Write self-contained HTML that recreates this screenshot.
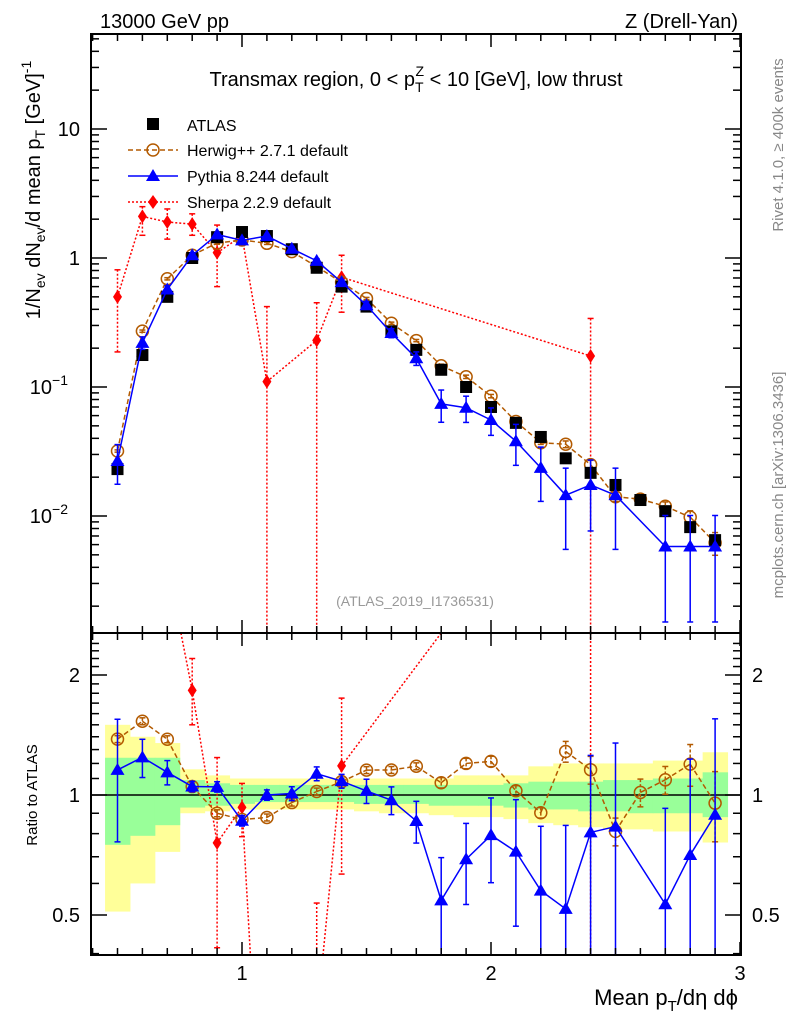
<!DOCTYPE html>
<html><head><meta charset="utf-8"><style>
html,body{margin:0;padding:0;background:#fff;width:786px;height:1024px;overflow:hidden}
svg{display:block;font-family:"Liberation Sans",Arial,sans-serif}
</style></head><body>
<svg id="chart" width="786" height="1024" viewBox="0 0 786 1024">
<defs>
<clipPath id="clipMain"><rect x="91" y="34" width="650" height="599"/></clipPath>
<clipPath id="clipRatio"><rect x="91" y="633" width="650" height="322"/></clipPath>
</defs>
<g id="bands" clip-path="url(#clipRatio)"></g>
<g id="marks"></g>
<rect x="91" y="34" width="650" height="599" fill="none" stroke="#000" stroke-width="2"/>
<rect x="91" y="633" width="650" height="322" fill="none" stroke="#000" stroke-width="2"/>
<g id="ticks"></g>
<text x="100" y="28" font-size="20">13000 GeV pp</text>
<text x="738" y="28" font-size="20" text-anchor="end">Z (Drell-Yan)</text>
<text x="416" y="86" font-size="20" text-anchor="middle">Transmax region, 0 &lt; p<tspan dy="6" font-size="14">T</tspan><tspan dy="-16" dx="-8" font-size="14">Z</tspan><tspan dy="10"> &lt; 10 [GeV], low thrust</tspan></text>
<text x="415" y="606" font-size="14" fill="#999" text-anchor="middle">(ATLAS_2019_I1736531)</text>
<text transform="translate(783,145) rotate(-90)" font-size="15" fill="#888" text-anchor="middle">Rivet 4.1.0, ≥ 400k events</text>
<text transform="translate(783,485) rotate(-90)" font-size="15" fill="#888" text-anchor="middle">mcplots.cern.ch [arXiv:1306.3436]</text>
<text transform="translate(40,190) rotate(-90)" font-size="20" text-anchor="middle">1/N<tspan dy="5" font-size="14">ev</tspan><tspan dy="-5"> dN</tspan><tspan dy="5" font-size="14">ev</tspan><tspan dy="-5">/d mean p</tspan><tspan dy="5" font-size="14">T</tspan><tspan dy="-5"> [GeV]</tspan><tspan dy="-9" font-size="14">-1</tspan></text>
<text transform="translate(37,795) rotate(-90)" font-size="15" text-anchor="middle">Ratio to ATLAS</text>
<text x="738" y="1005" font-size="22" text-anchor="end">Mean p<tspan dy="6" font-size="15">T</tspan><tspan dy="-6">/dη dϕ</tspan></text>
<g id="legend">
<rect x="147" y="118" width="12" height="12" fill="#000"/>
<text x="187" y="131" font-size="16">ATLAS</text>
<line x1="128" y1="150" x2="178" y2="150" stroke="#b35a00" stroke-width="1.5" stroke-dasharray="5,3"/>
<circle cx="153" cy="150" r="6" fill="none" stroke="#b35a00" stroke-width="1.5"/>
<text x="187" y="156" font-size="16">Herwig++ 2.7.1 default</text>
<line x1="128" y1="176" x2="178" y2="176" stroke="#0000ff" stroke-width="1.5"/>
<polygon points="153,169 160,181 146,181" fill="#0000ff"/>
<text x="187" y="182" font-size="16">Pythia 8.244 default</text>
<line x1="128" y1="202" x2="178" y2="202" stroke="#ff0000" stroke-width="1.5" stroke-dasharray="2,2"/>
<polygon points="153,195 158,202 153,209 148,202" fill="#ff0000"/>
<text x="187" y="208" font-size="16">Sherpa 2.2.9 default</text>
</g>
</svg>
<script>
const xs = [0.5,0.6,0.7,0.8,0.9,1.0,1.1,1.2,1.3,1.4,1.5,1.6,1.7,1.8,1.9,2.0,2.1,2.2,2.3,2.4,2.5,2.6,2.7,2.8,2.9];
const atlas = [0.0231,0.177,0.5,1.0,1.45,1.59,1.48,1.17,0.84,0.6,0.42,0.27,0.194,0.136,0.1,0.070,0.0527,0.041,0.028,0.0216,0.0174,0.0133,0.0109,0.0082,0.0065];
const herwig = [0.0319,0.271,0.69,1.05,1.305,1.38,1.30,1.12,0.857,0.648,0.485,0.312,0.229,0.146,0.12,0.085,0.054,0.037,0.036,0.025,0.0141,0.0135,0.0119,0.0098,0.0062];
const herwigErr = [0.02,0.02,0.02,0.02,0.02,0.02,0.02,0.02,0.02,0.02,0.02,0.02,0.02,0.03,0.03,0.03,0.03,0.03,0.06,0.08,0.08,0.08,0.08,0.12,0.2];
const pythia = [0.0267,0.22,0.57,1.05,1.52,1.37,1.48,1.18,0.95,0.65,0.43,0.262,0.167,0.074,0.069,0.0555,0.038,0.0236,0.0145,0.0174,0.0145,null,0.0058,0.0058,0.0058];
const pythiaErr = [0.34,0.11,0.07,0.03,0.03,0.03,0.03,0.04,0.04,0.04,0.07,0.08,0.12,0.28,0.23,0.24,0.35,0.45,0.62,0.56,0.62,0,0.74,0.74,0.74];
const sherpaX = [0.5,0.6,0.7,0.8,0.9,1.0,1.1,1.3,1.4,2.4];
const sherpa = [0.5,2.1,1.9,1.83,1.1,1.48,0.11,0.23,0.71,0.174];
const sherpaHi = [0.81,2.5,2.4,2.2,1.8,1.7,0.42,0.45,1.05,0.34];
const sherpaLo = [0.187,1.5,1.4,1.5,0.6,1.25,0,0,0.38,0];
const yellowHi = [1.5,1.4,1.35,1.16,1.12,1.1,1.1,1.1,1.1,1.1,1.1,1.1,1.1,1.1,1.12,1.12,1.12,1.18,1.2,1.2,1.2,1.2,1.22,1.22,1.28];
const yellowLo = [0.51,0.6,0.72,0.9,0.91,0.92,0.92,0.92,0.92,0.92,0.91,0.9,0.9,0.89,0.88,0.88,0.87,0.85,0.84,0.83,0.82,0.82,0.81,0.81,0.76];
const greenHi = [1.24,1.24,1.24,1.09,1.07,1.06,1.06,1.06,1.06,1.06,1.06,1.06,1.06,1.06,1.06,1.06,1.07,1.08,1.08,1.08,1.09,1.09,1.1,1.1,1.14];
const greenLo = [0.75,0.79,0.84,0.93,0.94,0.95,0.96,0.96,0.96,0.96,0.95,0.95,0.95,0.94,0.94,0.94,0.93,0.92,0.92,0.91,0.91,0.9,0.9,0.9,0.88];
const xTicks = [1,2,3];
const yTicks = [{v:10,t:"10"},{v:1,t:"1"},{v:0.1,t:"10",e:"−1"},{v:0.01,t:"10",e:"−2"}];
const rTicks = [2,1,0.5];

const NS="http://www.w3.org/2000/svg";
const HC="#b35a00";
const X=v=>242+(v-1)*249;
const Y=v=>v<=0?2000:258-129*Math.log10(v);
const R=v=>v<=0?2000:795-120*Math.log2(v);
function mk(tag,attrs,parent){const e=document.createElementNS(NS,tag);for(const k in attrs)e.setAttribute(k,attrs[k]);parent.appendChild(e);return e;}
const bands=document.getElementById('bands');
const marks=document.getElementById('marks');
const ticks=document.getElementById('ticks');
xs.forEach((x,i)=>{
  let r=mk('rect',{x:X(x-0.05),y:R(yellowHi[i]),width:X(x+0.05)-X(x-0.05)+0.5,height:R(yellowLo[i])-R(yellowHi[i]),fill:'#ffff99'},bands);
  
  
});
xs.forEach((x,i)=>{
  let r=mk('rect',{x:X(x-0.05),y:R(greenHi[i]),width:X(x+0.05)-X(x-0.05)+0.5,height:R(greenLo[i])-R(greenHi[i]),fill:'#99ff99'},bands);
  
  
});
let one=mk('line',{x1:91,x2:741,y1:R(1),y2:R(1),stroke:'#000','stroke-width':1.5},marks);


const gm=mk('g',{'clip-path':'url(#clipMain)'},marks);
const gr=mk('g',{'clip-path':'url(#clipRatio)'},marks);
// clip a segment to y range [ya,yb]
function clipSeg(x1,y1,x2,y2,ya,yb){
  let t0=0,t1=1;const dy=y2-y1;
  if(dy===0){if(y1<ya||y1>yb)return null;return [x1,y1,x2,y2];}
  let ta=(ya-y1)/dy,tb=(yb-y1)/dy;let lo=Math.min(ta,tb),hi=Math.max(ta,tb);
  t0=Math.max(t0,lo);t1=Math.min(t1,hi);if(t0>=t1)return null;
  return [x1+(x2-x1)*t0,y1+dy*t0,x1+(x2-x1)*t1,y1+dy*t1];
}
function series(g,xv,yv,scale,color,dash,name,ya,yb){
  let pts=[];xv.forEach((x,i)=>{if(yv[i]!=null)pts.push([X(x),scale(yv[i])]);});
  const gg=mk('g',{},g);
  
  
  for(let i=0;i<pts.length-1;i++){
    const s=clipSeg(pts[i][0],pts[i][1],pts[i+1][0],pts[i+1][1],ya,yb);
    if(s)mk('line',{x1:s[0],y1:s[1],x2:s[2],y2:s[3],stroke:color,'stroke-width':1.5,'stroke-dasharray':dash},gg);
  }
}
function err(g,x,lo,hi,scale,color,dash,ya,yb){
  let y1=Math.max(scale(hi),ya),y2=Math.min(scale(lo),yb);
  if(y1>=y2)return;
  let l=mk('line',{x1:X(x),x2:X(x),y1:y1,y2:y2,stroke:color,'stroke-width':1.5,'stroke-dasharray':dash},g);
  
  
  if(scale(hi)>=ya)mk('line',{x1:X(x)-3,x2:X(x)+3,y1:scale(hi),y2:scale(hi),stroke:color,'stroke-width':1.5},g);
  if(lo>0&&scale(lo)<=yb)mk('line',{x1:X(x)-3,x2:X(x)+3,y1:scale(lo),y2:scale(lo),stroke:color,'stroke-width':1.5},g);
}
function markers(g,scale,tag,ya,yb){
  const hr=herwig.map((v,i)=>v/atlas[i]);
  const pr=pythia.map((v,i)=>v==null?null:v/atlas[i]);
  const sr=sherpa.map((v,i)=>v/atlas[xs.indexOf(sherpaX[i])]);
  const H=tag==='main'?herwig:hr, P=tag==='main'?pythia:pr, S=tag==='main'?sherpa:sr;
  const SH=tag==='main'?sherpaHi:sherpaHi.map((v,i)=>v/atlas[xs.indexOf(sherpaX[i])]);
  const SL=tag==='main'?sherpaLo:sherpaLo.map((v,i)=>v/atlas[xs.indexOf(sherpaX[i])]);
  series(g,sherpaX,S,scale,'#ff0000','2,2','sherpa-line',ya,yb);
  sherpaX.forEach((x,i)=>{err(g,x,SL[i],SH[i],scale,'#ff0000','2,2',ya,yb);
    const y=scale(S[i]);if(y<ya-10||y>yb+10)return;
    let d=mk('polygon',{points:`${X(x)},${y-7} ${X(x)+4.5},${y} ${X(x)},${y+7} ${X(x)-4.5},${y}`,fill:'#ff0000'},g);
    
    });
  series(g,xs,H,scale,HC,'5,3','herwig-line',ya,yb);
  xs.forEach((x,i)=>{err(g,x,H[i]*(1-herwigErr[i]),H[i]*(1+herwigErr[i]),scale,HC,'3,2',ya,yb);
    let c=mk('circle',{cx:X(x),cy:scale(H[i]),r:6,fill:'none',stroke:HC,'stroke-width':1.5},g);
    
    });
  if(tag==='main') xs.forEach((x,i)=>{
    let s=mk('rect',{x:X(x)-6,y:Y(atlas[i])-6,width:12,height:12,fill:'#000'},g);
    
    });
  series(g,xs,P,scale,'#0000ff','','pythia-line',ya,yb);
  xs.forEach((x,i)=>{if(P[i]==null)return;
    err(g,x,P[i]*(1-pythiaErr[i]),P[i]*(1+pythiaErr[i]),scale,'#0000ff','',ya,yb);
    const y=scale(P[i]);
    let t=mk('polygon',{points:`${X(x)},${y-7} ${X(x)+7},${y+5} ${X(x)-7},${y+5}`,fill:'#0000ff'},g);
    
    });
}
markers(gm,Y,'main',34,633);
markers(gr,R,'ratio',633,955);
function tl(x1,y1,x2,y2){mk('line',{x1,y1,x2,y2,stroke:'#000','stroke-width':1.5},ticks);}
for(let v=0.4;v<=3.001;v+=0.1){const x=X(v);const maj=Math.abs(v-Math.round(v))<1e-6;const L=maj?13:7;
  tl(x,34,x,34+L);tl(x,633,x,633-L);tl(x,633,x,633+L);tl(x,955,x,955-L);}
xTicks.forEach(v=>{let t=mk('text',{x:X(v),y:980,'font-size':20,'text-anchor':'middle'},ticks);t.textContent=v;
  
  });
for(let d=-3;d<=1;d++)for(let m=1;m<10;m++){const v=m*Math.pow(10,d);const y=Y(v);if(y<34||y>633)continue;const L=m===1?16:8;tl(91,y,91+L,y);tl(741,y,741-L,y);}
yTicks.forEach(o=>{let t=mk('text',{x:80,y:Y(o.v)+7,'font-size':20,'text-anchor':'end'},ticks);t.textContent=o.t;
  if(o.e){t.setAttribute('x',68);let s=mk('tspan',{dy:-9,'font-size':14},t);s.textContent=o.e;}
  
  });
for(let v=0.4;v<=2.5;v+=0.1){const y=R(v);if(y<633||y>955)continue;const maj=[0.5,1,2].some(a=>Math.abs(a-v)<1e-6);const L=maj?16:8;tl(91,y,91+L,y);tl(741,y,741-L,y);}
rTicks.forEach(v=>{[80,752].forEach((x,k)=>{let t=mk('text',{x:x,y:R(v)+7,'font-size':20,'text-anchor':k?'start':'end'},ticks);t.textContent=v;
  
  });});
</script>
</body></html>
